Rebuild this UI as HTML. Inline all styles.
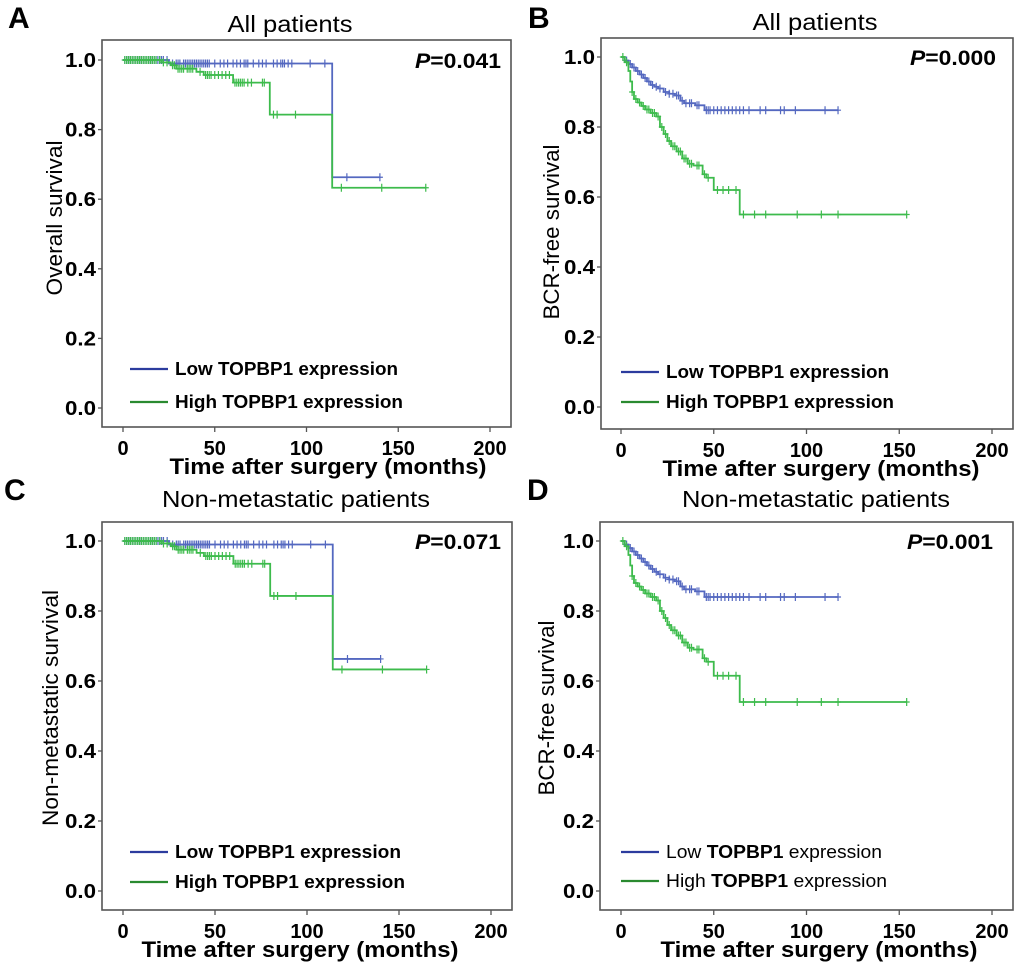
<!DOCTYPE html>
<html><head><meta charset="utf-8"><style>
html,body{margin:0;padding:0;background:#fff;width:1020px;height:964px;overflow:hidden}
svg{display:block;font-family:"Liberation Sans",Arial,sans-serif}
</style></head><body>
<svg id="fig" width="1020" height="964" viewBox="0 0 1020 964"></svg>
<script>
// Panel A / C: overall survival
const osLowTimes=[25,114];
const osLowSurv=[0.99,0.663];
const osLowCensor=[1,2,3,4,5,6,7,8,9,10,11,12,13,14,15,16,17,18,19,20,21,22,24,27,29,30,31,33,34,35,36,37,38,39,40,41,42,43,44,45,46,47,50,53,55,57,60,62,64,66,67,68,71,74,76,78,82,84,86,87,88,90,92,102,110,122,140];
const osHighTimes=[21,26,29,40,44,60,80,114];
const osHighSurv=[0.993,0.985,0.975,0.966,0.957,0.935,0.843,0.633];
const osHighCensor=[1,2,3,4,5,6,7,8,9,10,11,12,13,14,15,16,17,18,20,22,24,27,28,30,31,32,33,35,36,37,38,42,45,46,47,48,50,52,54,56,58,61,62,63,64,65,66,68,70,76,77,82,84,94,119,141,165];
// Panel B: BCR-free survival, all patients
const bLowTimes=[2,4,6,8,10,12,14,16,18,20,23,26,29,32,34,40,45];
const bLowSurv=[0.99,0.98,0.97,0.96,0.95,0.94,0.93,0.92,0.915,0.91,0.9,0.895,0.89,0.875,0.868,0.862,0.848];
const bLowCensor=[3,5,7,9,11,13,15,17,19,21,24,26,28,30,31,33,35,37,38,41,42,46,47,48,50,52,54,56,58,60,62,64,66,69,75,78,86,88,94,110,117];
const bHighTimes=[2,4,5,6,7,9,11,13,16,19,21,23,25,27,30,33,36,39,44,46,50,64];
const bHighSurv=[0.985,0.96,0.93,0.9,0.88,0.87,0.86,0.85,0.84,0.83,0.8,0.78,0.76,0.745,0.73,0.71,0.695,0.69,0.665,0.655,0.62,0.55];
const bHighCensor=[1,3,6,8,10,12,14,15,17,18,20,22,24,26,28,29,31,32,34,35,37,38,41,42,45,47,52,55,58,62,66,72,78,95,108,117,154];
// Panel D: BCR-free survival, non-metastatic
const dLowTimes=[2,4,6,8,10,12,14,16,18,20,23,26,29,32,34,40,45];
const dLowSurv=[0.99,0.98,0.97,0.96,0.95,0.94,0.93,0.92,0.912,0.905,0.895,0.89,0.885,0.87,0.862,0.856,0.84];
const dLowCensor=[3,5,7,9,11,13,15,17,19,21,24,26,28,30,31,33,35,37,38,41,42,46,47,48,50,52,54,56,58,60,62,64,66,69,75,78,86,88,94,110,117];
const dHighTimes=[2,4,5,6,7,9,11,13,16,19,21,23,25,27,30,33,36,39,44,46,50,64];
const dHighSurv=[0.985,0.96,0.93,0.9,0.88,0.87,0.86,0.85,0.84,0.83,0.8,0.78,0.76,0.745,0.73,0.71,0.695,0.69,0.665,0.655,0.615,0.54];
const dHighCensor=[1,3,6,8,10,12,14,15,17,18,20,22,24,26,28,29,31,32,34,35,37,38,41,42,45,47,52,55,58,62,66,72,78,95,108,117,154];
const xTicks=[0,50,100,150,200];
const yTicks=[0,0.2,0.4,0.6,0.8,1.0];

const NS='http://www.w3.org/2000/svg';
const svg=document.getElementById('fig');
function el(tag,attrs,parent,text){const e=document.createElementNS(NS,tag);for(const k in attrs)e.setAttribute(k,attrs[k]);if(text!==undefined)e.textContent=text;(parent||svg).appendChild(e);return e;}

function panel(cfg){
  const g=el('g',{});
  
  
  const xs=v=>cfg.x0+(cfg.x200-cfg.x0)*v/200;
  const ys=v=>cfg.y0+(cfg.y1-cfg.y0)*v;
  const t=el('text',{x:cfg.lx,y:cfg.ly,'font-size':30,'font-weight':'bold'},g,cfg.letter);
  
  
  const ti=el('text',{x:cfg.tx,y:cfg.ty,'font-size':23,'text-anchor':'middle',textLength:cfg.tw,lengthAdjust:'spacingAndGlyphs'},g,cfg.title);
  
  
  const fr=el('rect',{x:cfg.fl,y:cfg.ft,width:cfg.fr-cfg.fl,height:cfg.fb-cfg.ft,fill:'none',stroke:'#555','stroke-width':1.6},g);
  
  
  xTicks.forEach(v=>{
    el('line',{x1:xs(v),x2:xs(v),y1:cfg.fb,y2:cfg.fb+5,stroke:'#555','stroke-width':1.3},g);
    const l=el('text',{x:xs(v),y:cfg.fb+28,'font-size':20,'font-weight':'bold','text-anchor':'middle'},g,String(v));
    
    
  });
  yTicks.forEach(v=>{
    el('line',{x1:cfg.fl-4,x2:cfg.fl,y1:ys(v),y2:ys(v),stroke:'#555','stroke-width':1.3},g);
    const l=el('text',{x:cfg.fl-6,y:ys(v)+7,'font-size':20,'font-weight':'bold','text-anchor':'end',textLength:31,lengthAdjust:'spacingAndGlyphs'},g,v.toFixed(1));
    
    
  });
  const xl=el('text',{x:cfg.xlx,y:cfg.fb+47,'font-size':22,'font-weight':'bold','text-anchor':'middle',textLength:317,lengthAdjust:'spacingAndGlyphs'},g,'Time after surgery  (months)');
  
  
  const yl=el('text',{x:0,y:0,'font-size':22,'text-anchor':'middle',textLength:cfg.yw,lengthAdjust:'spacingAndGlyphs',transform:`translate(${cfg.yx},${cfg.yy}) rotate(-90)`},g,cfg.ylabel);
  
  
  const p=el('text',{x:cfg.px,y:cfg.y1+8,'font-size':21,'font-weight':'bold','text-anchor':'end',textLength:86,lengthAdjust:'spacingAndGlyphs'},g);
  
  
  el('tspan',{'font-style':'italic'},p,'P');
  el('tspan',{},p,'='+cfg.p);
  cfg.series.forEach(s=>{
    let d=`M${xs(0)},${ys(1)}`;
    s.times.forEach((tm,i)=>{d+=` H${xs(tm)} V${ys(s.surv[i])}`;});
    const last=Math.max(...s.censor,s.times[s.times.length-1]);
    d+=` H${xs(last)}`;
    const path=el('path',{d,fill:'none',stroke:s.color,'stroke-width':1.8},g);
    
    
    s.censor.forEach(c=>{
      let sv=1;s.times.forEach((tm,i)=>{if(tm<=c)sv=s.surv[i];});
      const m=el('path',{d:`M${xs(c)},${ys(sv)-4} V${ys(sv)+4} M${xs(c)-3},${ys(sv)} H${xs(c)+3}`,stroke:s.color,'stroke-width':1.2},g);
      
      
    });
  });
  cfg.legend.forEach((L,i)=>{
    const y=cfg.legY[i];
    const ln=el('line',{x1:cfg.legX,x2:cfg.legX+38,y1:y,y2:y,stroke:L.color,'stroke-width':2.2},g);
    
    
    const tx=el('text',{x:cfg.legX+45,y:y+6,'font-size':18,'font-weight':'bold',textLength:cfg.legW[i],lengthAdjust:'spacingAndGlyphs'},g);
    
    
    if(cfg.mixed){el('tspan',{'font-weight':'normal'},tx,L.a+' ');el('tspan',{},tx,'TOPBP1');el('tspan',{'font-weight':'normal'},tx,' expression');}
    else tx.textContent=L.a+' TOPBP1 expression';
  });
}
const BL='#5468c0',GR='#3dbb4c';
const leg=[{a:'Low',color:'#2c3c9e'},{a:'High',color:'#2a8a30'}];
panel({letter:'A',lx:8,ly:28,title:'All patients',tx:290,tw:125,ty:32,fl:102,fr:511,ft:40,fb:427,x0:123,x200:490,y1:60,y0:408,xlx:328,yx:62,yy:218,yw:155,ylabel:'Overall survival',px:501,p:'0.041',
  series:[{name:'low',color:BL,times:osLowTimes,surv:osLowSurv,censor:osLowCensor},{name:'high',color:GR,times:osHighTimes,surv:osHighSurv,censor:osHighCensor}],
  legend:leg,legX:130,mixed:false,legY:[369,402],legW:[223,228]});
panel({letter:'B',lx:528,ly:28,title:'All patients',tx:815,tw:125,ty:30,fl:601,fr:1013,ft:38,fb:429,x0:621,x200:992,y1:57,y0:407,xlx:821,yx:559,yy:232,yw:175,ylabel:'BCR-free survival',px:996,p:'0.000',
  series:[{name:'low',color:BL,times:bLowTimes,surv:bLowSurv,censor:bLowCensor},{name:'high',color:GR,times:bHighTimes,surv:bHighSurv,censor:bHighCensor}],
  legend:leg,legX:621,mixed:false,legY:[372,402],legW:[223,228]});
panel({letter:'C',lx:4,ly:500,title:'Non-metastatic patients',tx:296,tw:268,ty:507,fl:102,fr:512,ft:522,fb:910,x0:123,x200:491,y1:541,y0:891,xlx:300,yx:58,yy:708,yw:236,ylabel:'Non-metastatic survival',px:501,p:'0.071',
  series:[{name:'low',color:BL,times:osLowTimes,surv:osLowSurv,censor:osLowCensor},{name:'high',color:GR,times:osHighTimes,surv:osHighSurv,censor:osHighCensor}],
  legend:leg,legX:130,mixed:false,legY:[852,882],legW:[226,230]});
panel({letter:'D',lx:527,ly:500,title:'Non-metastatic patients',tx:816,tw:268,ty:507,fl:600,fr:1013,ft:522,fb:910,x0:621,x200:992,y1:541,y0:891,xlx:819,yx:554,yy:708,yw:175,ylabel:'BCR-free survival',px:993,p:'0.001',
  series:[{name:'low',color:BL,times:dLowTimes,surv:dLowSurv,censor:dLowCensor},{name:'high',color:GR,times:dHighTimes,surv:dHighSurv,censor:dHighCensor}],
  legend:leg,legX:621,mixed:true,legY:[852,881],legW:[216,221]});
</script>
</body></html>
